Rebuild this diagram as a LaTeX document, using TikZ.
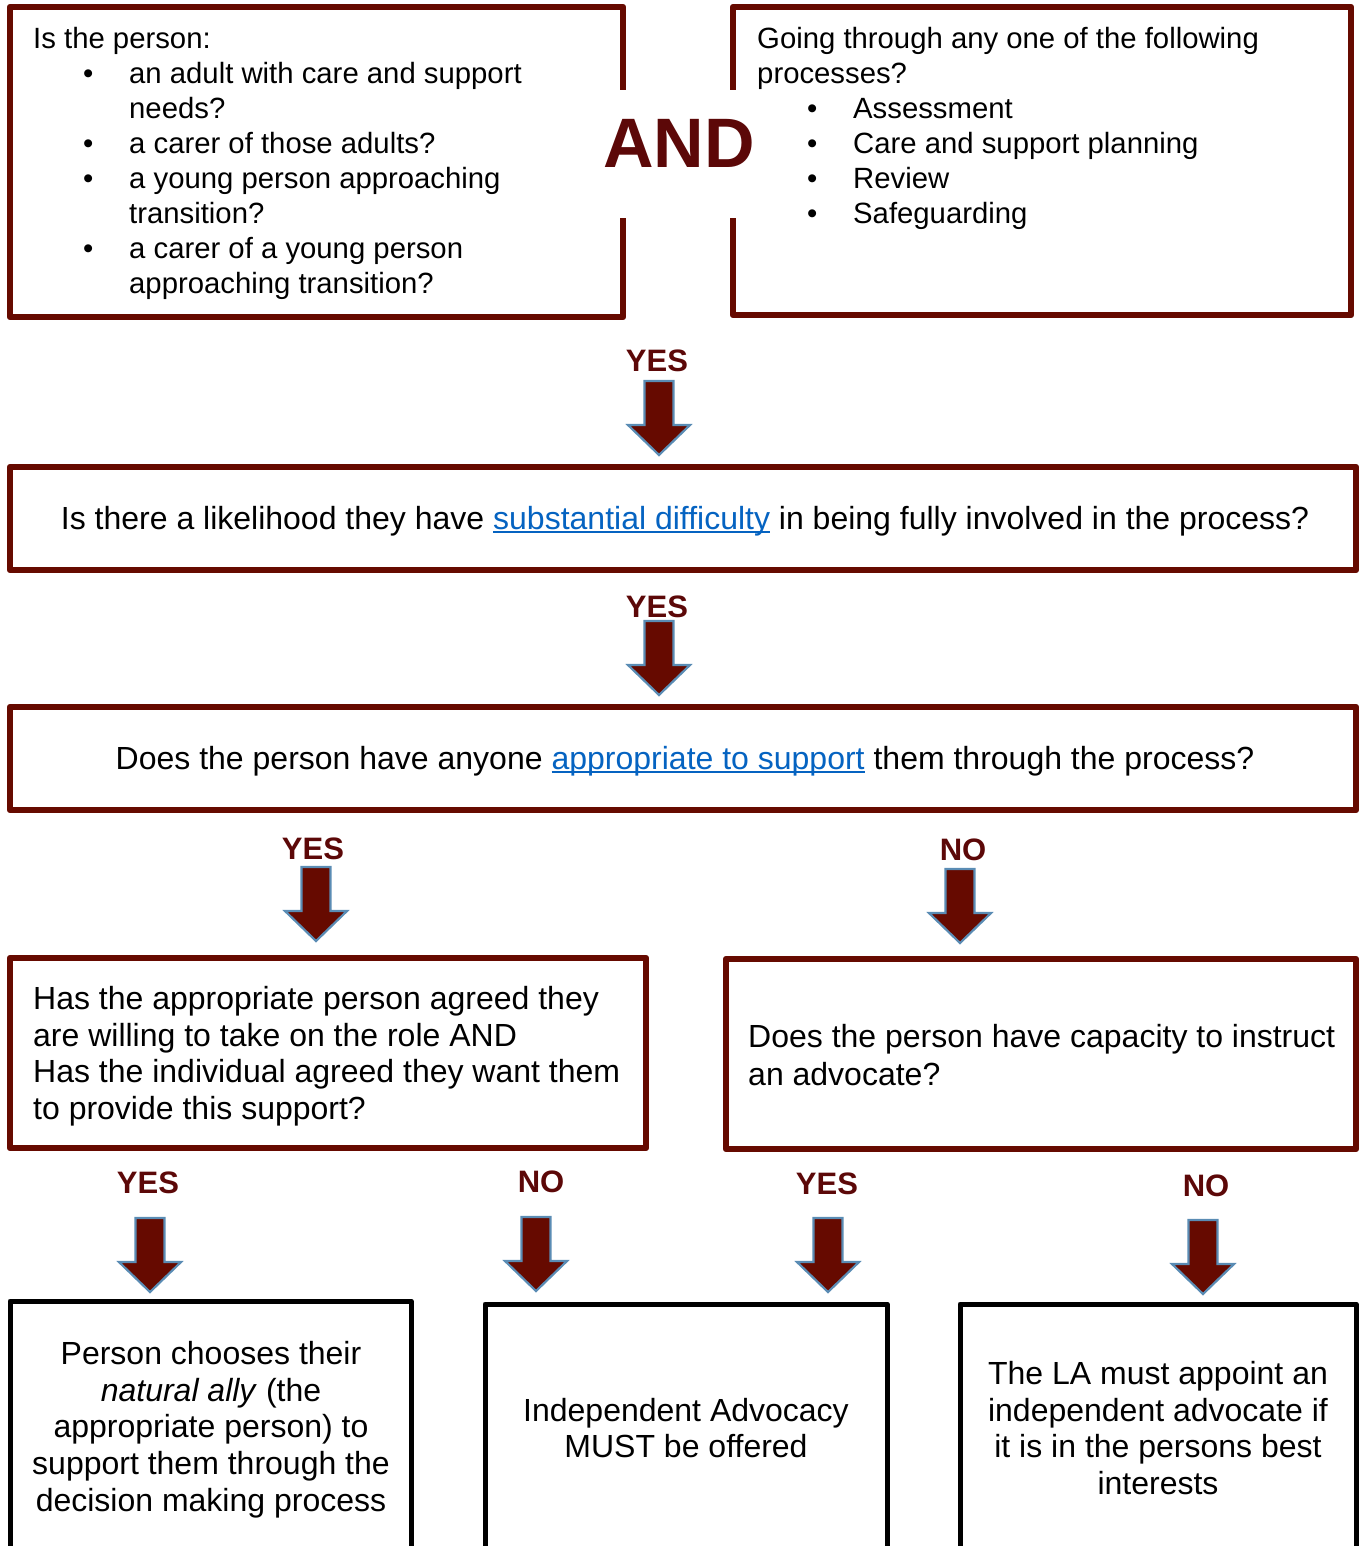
\documentclass[tikz,border=0pt]{standalone}
\usepackage{fontspec}
\setmainfont{Liberation Sans}
\usepackage{xcolor}
\definecolor{boxred}{RGB}{102,10,0}
\definecolor{lblred}{RGB}{92,8,8}
\definecolor{arrowedge}{RGB}{90,140,180}
\definecolor{linkblue}{RGB}{5,99,193}
\newcommand\bitem[1]{\makebox[96pt][l]{\hspace*{50pt}•}#1}
\newcommand\bcont[1]{\hspace*{96pt}#1}
\newcommand\lnk[1]{\setbox0\hbox{#1}\textcolor{linkblue}{\rlap{\rule[-3.5pt]{\wd0}{1.4pt}}\box0}}
\tikzset{
  redbox/.style={draw=boxred, line width=6.5pt, line join=round},
  blackbox/.style={draw=black, line width=5pt, line join=round},
  lbl/.style={inner sep=0pt, text=lblred, font=\fontsize{31}{36}\selectfont\bfseries},
  txtA/.style={inner sep=0pt, font=\fontsize{29.3}{35}\selectfont},
  txtC/.style={inner sep=0pt, font=\fontsize{32}{36}\selectfont},
  txtB/.style={inner sep=0pt, font=\fontsize{32}{36.7}\selectfont},
  downarrow/.pic={\draw[fill=boxred, draw=arrowedge, line width=2.2pt, line join=miter]
     (-14.5,0) -- (14.5,0) -- (14.5,44) -- (31,44) -- (0,74) -- (-31,44) -- (-14.5,44) -- cycle;}
}
\begin{document}
\begin{tikzpicture}[x=1pt,y=-1pt]
\useasboundingbox (0,0) rectangle (1361,1546);
% top boxes
\draw[redbox] (623,90) -- (623,7) -- (10,7) -- (10,317) -- (623,317) -- (623,218);
\draw[redbox] (733,90) -- (733,7) -- (1351,7) -- (1351,315) -- (733,315) -- (733,218);
\node[txtA, anchor=north west, align=left] (q1) at (33,27) {Is the person:\\
\bitem{an adult with care and support}\\
\bcont{needs?}\\
\bitem{a carer of those adults?}\\
\bitem{a young person approaching}\\
\bcont{transition?}\\
\bitem{a carer of a young person}\\
\bcont{approaching transition?}};
\node[txtA, anchor=north west, align=left] (q2) at (757,27) {Going through any one of the following\\
processes?\\
\bitem{Assessment}\\
\bitem{Care and support planning}\\
\bitem{Review}\\
\bitem{Safeguarding}};
\node[inner sep=0pt, text=lblred, font=\fontsize{70}{80}\selectfont\bfseries] (and) at (679,143) {AND};
% row 2
\node[lbl] (y1) at (657,361) {YES};
\pic at (659,381) {downarrow};
\draw[redbox] (10,467) rectangle (1356,570);
\node[txtC] (q3) at (685,521) {Is there a likelihood they have \lnk{substantial difficulty} in being fully involved in the process?};
\node[lbl] (y2) at (657,607) {YES};
\pic at (659,621) {downarrow};
\draw[redbox] (10,707) rectangle (1356,810);
\node[txtC] (q4) at (685,761) {Does the person have anyone \lnk{appropriate to support} them through the process?};
% row 3
\node[lbl] (y3) at (313,849) {YES};
\pic at (316,867) {downarrow};
\node[lbl] (n1) at (963,850) {NO};
\pic at (960,869) {downarrow};
\draw[redbox] (10,958) rectangle (646,1148);
\node[txtB, anchor=north west, align=left] (q5) at (33,986) {Has the appropriate person agreed they\\
are willing to take on the role AND\\
Has the individual agreed they want them\\
to provide this support?};
\draw[redbox] (726,959) rectangle (1356,1149);
\node[txtB, anchor=north west, align=left, font=\fontsize{32}{38}\selectfont] (q6) at (748,1024) {Does the person have capacity to instruct\\
an advocate?};
% row 4
\node[lbl] (y4) at (148,1183) {YES};
\pic at (150,1218) {downarrow};
\node[lbl] (n2) at (541,1182) {NO};
\pic at (536,1217) {downarrow};
\node[lbl] (y5) at (827,1184) {YES};
\pic at (828,1218) {downarrow};
\node[lbl] (n3) at (1206,1186) {NO};
\pic at (1203,1220) {downarrow};
% bottom boxes
\draw[blackbox] (10,1560) -- (10,1301) -- (411,1301) -- (411,1560);
\draw[blackbox] (485,1560) -- (485,1304) -- (887,1304) -- (887,1560);
\draw[blackbox] (960,1560) -- (960,1304) -- (1356,1304) -- (1356,1560);
\node[txtB, anchor=north, align=center] (r1) at (211,1341) {Person chooses their\\
\textit{natural ally} (the\\
appropriate person) to\\
support them through the\\
decision making process};
\node[txtB, anchor=north, align=center, font=\fontsize{32}{36}\selectfont] (r2) at (686,1398) {Independent Advocacy\\
MUST be offered};
\node[txtB, anchor=north, align=center] (r3) at (1158,1361) {The LA must appoint an\\
independent advocate if\\
it is in the persons best\\
interests};
\end{tikzpicture}
\end{document}
